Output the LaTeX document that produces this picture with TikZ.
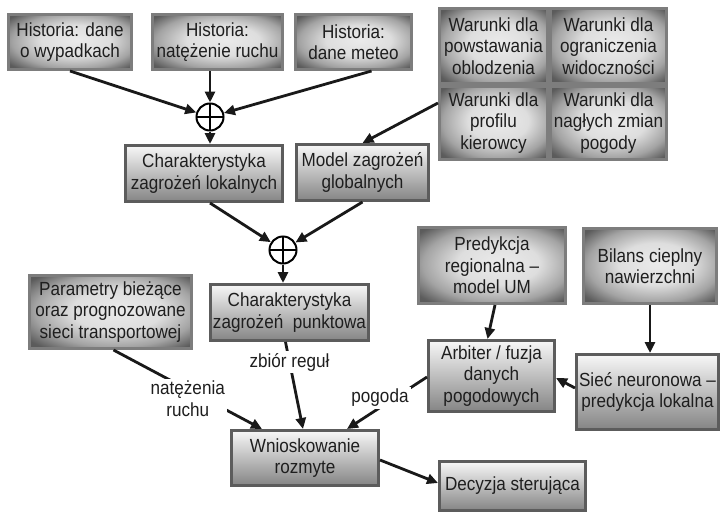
\documentclass[tikz,border=0pt]{standalone}
\usepackage{fontspec}
\setmainfont{Liberation Sans}[FakeStretch=0.9]
\usetikzlibrary{arrows.meta}
\definecolor{framegray}{RGB}{92,92,92}
\definecolor{softframe}{RGB}{125,125,125}
\definecolor{inkgray}{RGB}{30,30,30}
% soft glow: light centre fading to dark corners
\pgfdeclareradialshading{glow}{\pgfpoint{3bp}{2bp}}{%
  color(0bp)=(black!8); color(14bp)=(black!13); color(25bp)=(black!36);
  color(33bp)=(black!64); color(50bp)=(black!68)}
\begin{document}
\begin{tikzpicture}[x=1pt,y=-1pt,
  txt/.style={font=\fontsize{19}{21.5}\selectfont,text=inkgray,align=center},
  base/.style={txt,line width=3pt,inner sep=0pt},
  darkbox/.style={base,draw=softframe,shading=glow},
  lightbox/.style={base,draw=framegray,top color=black!3,bottom color=black!48},
  conn/.style={line width=2.8pt,draw=black!90,-{Triangle[length=11pt,width=10pt]}},
  sumnode/.style={circle,draw=black,line width=2pt,fill=white,minimum size=27pt,inner sep=0pt,
    path picture={\draw[line width=2pt]
      (path picture bounding box.north) -- (path picture bounding box.south)
      (path picture bounding box.west) -- (path picture bounding box.east);}},
  lbl/.style={txt,fill=white,inner sep=2pt}]
\useasboundingbox (0,0) rectangle (725,514);

% historical data sources
\node[darkbox,minimum width=123pt,minimum height=55pt] (h1) at (70,42) {Historia: dane\\o wypadkach};
\node[darkbox,minimum width=130pt,minimum height=55pt] (h2) at (217.5,42) {Historia:\\natężenie ruchu};
\node[darkbox,minimum width=116pt,minimum height=55pt] (h3) at (353.5,42) {Historia:\\dane meteo};

% condition grid
\node[darkbox,minimum width=108pt,minimum height=75pt] (w1) at (493.5,46) {Warunki dla\\powstawania\\oblodzenia};
\node[darkbox,minimum width=116pt,minimum height=75pt] (w2) at (608.5,46) {Warunki dla\\ograniczenia\\widoczności};
\node[darkbox,minimum width=108pt,minimum height=73pt] (w3) at (493.5,123) {Warunki dla\\profilu\\kierowcy};
\node[darkbox,minimum width=116pt,minimum height=73pt] (w4) at (608.5,123) {Warunki dla\\nagłych zmian\\pogody};

% hazard models
\node[sumnode] (s1) at (210,117) {};
\node[lightbox,minimum width=157pt,minimum height=56pt] (charL) at (204,173.5) {Charakterystyka\\zagrożeń lokalnych};
\node[lightbox,minimum width=132pt,minimum height=56pt] (model) at (362.5,172.5) {Model zagrożeń\\globalnych};
\node[sumnode] (s2) at (283,250) {};
\node[lightbox,minimum width=158pt,minimum height=56pt] (charP) at (289.5,312.5) {Charakterystyka\\zagrożeń~~punktowa};

% current data and weather
\node[darkbox,minimum width=162pt,minimum height=73pt] (param) at (110.5,312) {Parametry bieżące\\oraz prognozowane\\sieci transportowej};
\node[darkbox,minimum width=147pt,minimum height=76pt] (pred) at (492,265.5) {Predykcja\\regionalna –\\model UM};
\node[darkbox,minimum width=133pt,minimum height=75pt] (bilans) at (650,266) {Bilans cieplny\\nawierzchni};
\node[lightbox,minimum width=126pt,minimum height=71pt] (arb) at (491.5,376) {Arbiter / fuzja\\danych\\pogodowych};
\node[lightbox,minimum width=142pt,minimum height=75pt] (siec) at (647.5,392) {Sieć neuronowa –\\predykcja lokalna};

% inference and output
\node[lightbox,minimum width=147pt,minimum height=55pt] (wnio) at (305,458) {Wnioskowanie\\rozmyte};
\node[lightbox,minimum width=146pt,minimum height=49pt] (dec) at (512.5,486) {Decyzja sterująca};

% connectors
\draw[conn] (h1.south) -- (s1);
\draw[conn] (h2.south -| s1) -- (s1);
\draw[conn] ([xshift=18pt]h3.south) -- (s1);
\draw[conn] (s1) -- (s1 |- charL.north);
\draw[conn] ([yshift=20pt]w3.west) -- (model.north);
\draw[conn] ([xshift=6pt]charL.south) -- (s2);
\draw[conn] (model.south) -- (s2);
\draw[conn] (s2) -- (s2 |- charP.north);
\draw[conn] ([xshift=3pt]pred.south) -- ([xshift=-4pt]arb.north);
\draw[conn] (bilans.south) -- (bilans.south |- siec.north);
\draw[conn] ([yshift=4pt]siec.west) -- ([yshift=-2pt]arb.east);
\draw[conn] ([xshift=3pt]param.south) -- node[lbl,pos=0.5,yshift=-9pt]{natężenia\\ruchu} ([xshift=-43pt]wnio.north);
\draw[conn] ([xshift=-4pt]charP.south) -- node[lbl,pos=0.23]{zbiór reguł} ([xshift=-2pt]wnio.north);
\draw[conn] ([yshift=-1pt]arb.west) -- node[lbl,pos=0.5,xshift=-7pt,yshift=5pt]{pogoda} ([xshift=42pt]wnio.north);
\draw[conn] ([yshift=-2pt]wnio.east) -- ([yshift=3pt]dec.west);
\end{tikzpicture}
\end{document}
